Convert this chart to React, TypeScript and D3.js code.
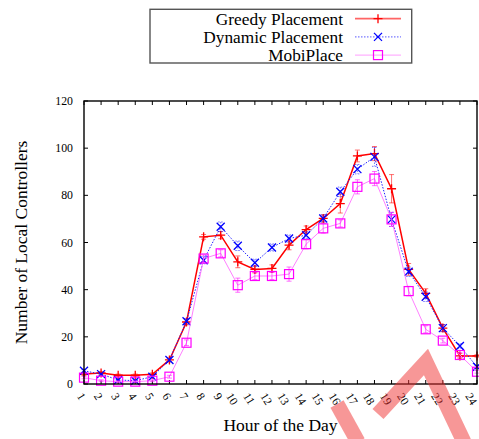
import React from "react";
import { scaleLinear, line } from "d3";

const hours = [1, 2, 3, 4, 5, 6, 7, 8, 9, 10, 11, 12, 13, 14, 15, 16, 17, 18, 19, 20, 21, 22, 23, 24];
const greedy = [4.2, 4.7, 3.7, 3.7, 4.1, 10.2, 26.3, 62.4, 63.1, 51.8, 48.6, 49, 58.9, 65.5, 70.2, 76.5, 96.7, 97.7, 82.8, 48.6, 38.4, 23.7, 11.9, 11.9];
const greedyErr = [0.6, 0.6, 0.5, 0.5, 0.6, 0.8, 1.2, 1, 1.5, 2.5, 1.5, 1.5, 2, 1.5, 1.5, 4, 2.5, 3, 6, 2.5, 2, 1.5, 1, 0.5];
const dynamic = [5.6, 4.2, 1.7, 1.4, 3.1, 10.2, 26.6, 52.5, 66.7, 58.6, 51.4, 57.9, 61.7, 63.1, 70.2, 81.5, 91.1, 96.3, 69.8, 47.6, 37, 23.7, 16.1, 7.3];
const dynamicErr = [0.6, 0.5, 0.4, 0.4, 0.5, 0.8, 1.2, 1.5, 2, 2, 1.5, 1.5, 1.5, 1.5, 1.5, 2, 2, 4, 3, 2, 2, 1.5, 1, 0.8];
const mobi = [2.7, 1.4, 1, 1, 1.4, 3.1, 17.5, 53.2, 55.4, 41.9, 45.8, 45.8, 46.6, 59.3, 66, 68.1, 83.6, 87.1, 69.8, 39.4, 23.2, 18.4, 12.3, 5.2];
const mobiErr = [0.5, 0.4, 0.4, 0.4, 0.4, 0.6, 1.2, 1.5, 1.5, 3, 1.5, 1.5, 3, 2, 2, 1.5, 3, 3, 3, 2, 1.5, 1, 1, 0.6];
const yTicks = [0, 20, 40, 60, 80, 100, 120];
const seriesNames = ["Greedy Placement", "Dynamic Placement", "MobiPlace"];

const width = 479;
const height = 439;
const margin = { top: 101, right: 2, bottom: 55, left: 84 };
const font = "'Liberation Serif', 'Times New Roman', serif";

const x = scaleLinear().domain([1, 24]).range([margin.left, width - margin.right]);
const y = scaleLinear().domain([0, 120]).range([height - margin.bottom, margin.top]);

const marker = (kind: string, cx: number, cy: number, color: string, key: string) => {
  if (kind === "plus")
    return <path key={key} d={`M${cx - 4.5},${cy}H${cx + 4.5}M${cx},${cy - 4.5}V${cy + 4.5}`} stroke={color} strokeWidth={1.3} />;
  if (kind === "cross")
    return <path key={key} d={`M${cx - 4},${cy - 4}L${cx + 4},${cy + 4}M${cx - 4},${cy + 4}L${cx + 4},${cy - 4}`} stroke={color} strokeWidth={1.3} />;
  return <rect key={key} x={cx - 4.5} y={cy - 4.5} width={9} height={9} fill="none" stroke={color} strokeWidth={1.2} />;
};

const series = [
  { name: seriesNames[0], vals: greedy, err: greedyErr, color: "#ff0000", lineColor: "#ff0000", width: 1.5, dash: undefined, kind: "plus" },
  { name: seriesNames[1], vals: dynamic, err: dynamicErr, color: "#0000ff", lineColor: "#2020ff", width: 1, dash: "1.5,1.5", kind: "cross" },
  { name: seriesNames[2], vals: mobi, err: mobiErr, color: "#ff00ff", lineColor: "#ff80ff", width: 1, dash: undefined, kind: "square" },
];

const App = () => {
  const x0 = margin.left;
  const x1 = width - margin.right;
  const y0 = height - margin.bottom;
  const y1 = margin.top;

  return (
    <svg width={width} height={height} style={{ position: "absolute", left: 0, top: 0, background: "#fff" }} fontFamily={font}>
      {/* legend */}
      <rect x={150} y={9.3} width={261.7} height={53.7} fill="none" stroke="#555" strokeWidth={1.4} />
      {series.map((s, i) => {
        const ly = 18.7 + i * 18.2;
        return (
          <g key={s.name}>
            <text x={343} y={ly + 6} textAnchor="end" fontSize={17.3} fill="#000">{s.name}</text>
            <line x1={355} x2={401} y1={ly} y2={ly} stroke={s.lineColor} strokeWidth={s.width + 0.3} strokeDasharray={s.dash} opacity={0.6} />
            {marker(s.kind, 378, ly, s.color, "lm" + i)}
          </g>
        );
      })}

      {/* ticks */}
      {hours.map(h => (
        <g key={"xt" + h}>
          <line x1={x(h)} x2={x(h)} y1={y0} y2={y0 - 4} stroke="#000" strokeWidth={1} />
          <line x1={x(h)} x2={x(h)} y1={y1} y2={y1 + 4} stroke="#000" strokeWidth={1} />
          <text transform={`translate(${x(h) - (h < 10 ? 7.5 : 12)},${y0 + 12}) rotate(58)`} fontSize={11.6} fill="#000">{h}</text>
        </g>
      ))}
      {yTicks.map(t => (
        <g key={"yt" + t}>
          <line x1={x0} x2={x0 + 4} y1={y(t)} y2={y(t)} stroke="#000" strokeWidth={1} />
          <line x1={x1} x2={x1 - 4} y1={y(t)} y2={y(t)} stroke="#000" strokeWidth={1} />
          <text x={73} y={y(t)} dy="0.35em" textAnchor="end" fontSize={11.8} fill="#000">{t}</text>
        </g>
      ))}

      {/* series */}
      {series.map((s, i) => {
        const path = line<number>().x((_, j) => x(hours[j])).y(v => y(v))(s.vals) || "";
        return (
          <g key={"s" + i}>
            <path d={path} fill="none" stroke={s.lineColor} strokeWidth={s.width} strokeDasharray={s.dash} />
            {s.vals.map((v, j) => {
              const cx = x(hours[j]);
              const top = y(v + s.err[j]);
              const bot = y(v - s.err[j]);
              return (
                <path key={"e" + j} d={`M${cx},${top}V${bot}M${cx - 2.5},${top}H${cx + 2.5}M${cx - 2.5},${bot}H${cx + 2.5}`}
                  stroke={s.color} strokeWidth={0.8} strokeOpacity={0.7} strokeDasharray={s.dash} fill="none" />
              );
            })}
            {s.vals.map((v, j) => marker(s.kind, x(hours[j]), y(v), s.color, "m" + j))}
          </g>
        );
      })}

      {/* frame */}
      <rect x={x0} y={y1} width={x1 - x0} height={y0 - y1} fill="none" stroke="#000" strokeWidth={1.4} />

      {/* axis titles */}
      <text x={280.5} y={431} textAnchor="middle" fontSize={17.5} fill="#000">Hour of the Day</text>
      <text transform={`translate(27,242.5) rotate(-90)`} textAnchor="middle" fontSize={17.5} fill="#000">Number of Local Controllers</text>

      {/* watermark */}
      <g stroke="#f03030" strokeOpacity={0.5} strokeWidth={15} fill="none">
        <path d="M337,404L358,442" />
        <path d="M378,414L426,362L464,442" />
      </g>
    </svg>
  );
};

export default App;
